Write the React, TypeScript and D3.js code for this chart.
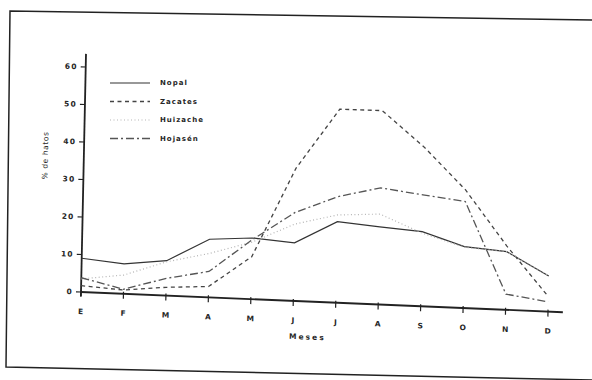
import React from 'react';
import * as d3 from 'd3';

const months = ['E', 'F', 'M', 'A', 'M', 'J', 'J', 'A', 'S', 'O', 'N', 'D'];
const yTicks = [0, 10, 20, 30, 40, 50, 60];

const nopal = [9, 8, 9.3, 15.5, 16.3, 15.5, 21.6, 20.7, 19.9, 16.4, 15.5, 9.5];
const zacates = [1.7, 1.0, 2.2, 2.9, 11.3, 35.4, 51.6, 51.7, 42.5, 31.5, 17, 4];
const huizache = [3.5, 5, 9, 11.7, 15.2, 20.5, 23.4, 24.1, 19.5, 16.2, 15.5, 9.5];
const hojasen = [3.8, 1.2, 4.6, 6.9, 15.8, 23.6, 28.3, 31.1, 29.7, 28.4, 4.2, 2.6];

const series = [
  { name: 'Nopal', values: nopal, color: '#333', width: 1.2, dash: '' },
  { name: 'Zacates', values: zacates, color: '#444', width: 1.3, dash: '4,3.5' },
  { name: 'Huizache', values: huizache, color: '#b5b5b5', width: 1.2, dash: '1,2.5' },
  { name: 'Hojasén', values: hojasen, color: '#555', width: 1.3, dash: '8,3,2,3' },
];

const font = '"DejaVu Sans", sans-serif';

export default function App() {
  // the scan is slightly skewed: axes are drawn in a sheared frame
  const x = d3.scaleLinear().domain([0, 11]).range([0, 467]);
  const y = d3.scaleLinear().domain([0, 60]).range([0, -225]);

  const line = d3.line<number>()
    .x((_, i) => x(i))
    .y(d => y(d));

  return (
    <svg width={592} height={380} style={{ position: 'absolute', left: 0, top: 0, background: '#fff' }}>
      {/* frame */}
      <path d="M592,20 L10,11 L6,367 L592,380" fill="none" stroke="#222" strokeWidth={1.5} />

      <g transform="matrix(1,0.042,-0.021,1,81,292)" fontFamily={font} fill="#262626">
        {/* y axis */}
        <line x1={0} x2={0} y1={4} y2={y(63.5)} stroke="#222" strokeWidth={1.8} />
        {yTicks.map(t => (
          <g key={t} transform={`translate(0,${y(t)})`}>
            <line x1={-5} x2={0} stroke="#222" strokeWidth={1.2} />
            <text x={-8} dy="0.35em" textAnchor="end" fontSize={7.5} fontWeight="bold" letterSpacing={1.2}>{t}</text>
          </g>
        ))}
        <text transform={`translate(-36,${y(36)}) rotate(-90)`} textAnchor="middle" fontSize={7.5} letterSpacing={0.6}>
          % de hatos
        </text>

        {/* x axis */}
        <line x1={0} x2={x(11.35)} y1={0} y2={0} stroke="#222" strokeWidth={1.8} />
        {months.map((m, i) => (
          <g key={i} transform={`translate(${x(i)},0)`}>
            <line y1={-2} y2={5} stroke="#222" strokeWidth={1.2} />
            <text y={22} textAnchor="middle" fontSize={7.5} fontWeight="bold">{m}</text>
          </g>
        ))}
        <text x={x(5.35)} y={38} textAnchor="middle" fontSize={7.5} fontWeight="bold" letterSpacing={2}>Meses</text>

        {/* series */}
        {series.map(s => (
          <path key={s.name} d={line(s.values) ?? ''} fill="none" stroke={s.color}
            strokeWidth={s.width} strokeDasharray={s.dash} />
        ))}
      </g>

      {/* legend */}
      <g fontFamily={font} fill="#262626">
        {series.map((s, i) => (
          <g key={s.name} transform={`translate(110,${83 + i * 18.5})`}>
            <line x1={0} x2={40} stroke={s.color} strokeWidth={s.width} strokeDasharray={s.dash} />
            <text x={50} dy="0.35em" fontSize={7} fontWeight="bold" letterSpacing={1}>{s.name}</text>
          </g>
        ))}
      </g>
    </svg>
  );
}
